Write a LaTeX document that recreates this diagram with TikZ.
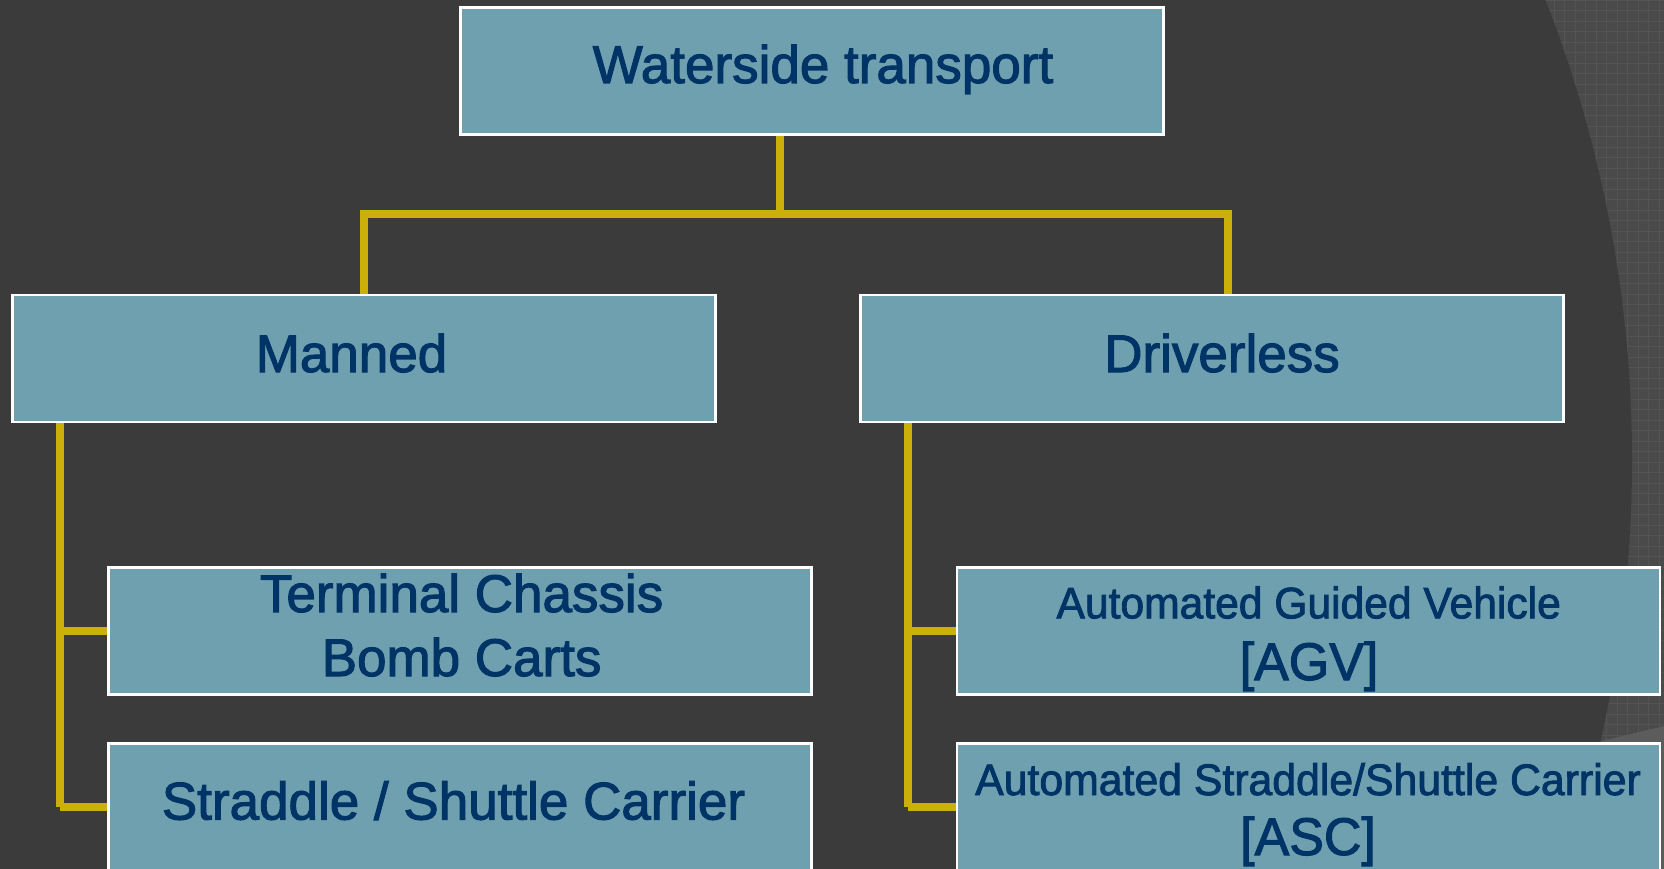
\documentclass[tikz,border=0pt]{standalone}
\usepackage{fontspec}
\setmainfont{Liberation Sans}
\newfontfamily\boxfont{Liberation Sans}[FakeBold=2]
\definecolor{slate}{RGB}{59,59,59}
\definecolor{slatelight}{RGB}{74,74,74}
\definecolor{meshline}{RGB}{84,84,84}
\definecolor{boxfill}{RGB}{111,160,176}
\definecolor{navy}{RGB}{0,51,102}
\definecolor{gold}{RGB}{204,176,10}
\tikzset{
  box/.style={rectangle, draw=white, line width=2.4pt, fill=boxfill,
    inner sep=0pt, minimum width=703pt, minimum height=127pt},
  txt/.style={text=navy, inner sep=0pt, anchor=base,
    font=\boxfont\fontsize{53}{60}\selectfont},
  smalltxt/.style={txt, font=\boxfont\fontsize{44}{50}\selectfont},
  link/.style={draw=gold, line width=8pt, line cap=butt, line join=miter},
}
\begin{document}
\begin{tikzpicture}[x=1pt,y=-1pt]
\useasboundingbox (0,0) rectangle (1664,869);
\clip (0,0) rectangle (1664,869);

% backdrop: textured band on the right, dark disc over the rest
\fill[slatelight] (0,0) rectangle (1664,869);
\draw[meshline, line width=0.7pt, step=10.5pt] (1450,0) grid (1664,869);
\fill[slatelight!90!white] (1598,742) -- (1664,726) -- (1664,869) -- (1580,869) -- cycle;
\fill[slate] (372,460) circle[radius=1260];

% boxes
\node[box] (wt)       at (811.8,71)   {};
\node[box] (manned)   at (364,358.2)  {};
\node[box] (driver)   at (1211.9,358.2) {};
\node[box] (term)     at (459.8,630.9)  {};
\node[box] (straddle) at (459.8,807)    {};
\node[box] (agv)      at (1308.2,630.9) {};
\node[box] (asc)      at (1308.2,807)   {};

% labels
\node[txt] (twt)  at (823,83)     {Waterside transport};
\node[txt] (tman) at (351.5,372)  {Manned};
\node[txt] (tdrv) at (1222,372)   {Driverless};
\node[txt] (tt1)  at (461.6,612)  {Terminal Chassis};
\node[txt] (tt2)  at (461.6,676)  {Bomb Carts};
\node[txt] (tsc)  at (453.5,819.5) {Straddle / Shuttle Carrier};
\node[smalltxt] (ta1) at (1308.7,618.3) {\scalebox{0.968}[1]{Automated Guided Vehicle}};
\node[txt] (ta2)  at (1309,680)   {\scalebox{0.98}[1]{[AGV]}};
\node[smalltxt] (ts1) at (1308,795) {\scalebox{0.972}[1]{Automated Straddle/Shuttle Carrier}};
\node[txt] (ts2)  at (1308,855)   {\scalebox{0.98}[1]{[ASC]}};

% connector anchors
\coordinate (trunk) at (780,214);
\coordinate (busl)  at (364,214);
\coordinate (busr)  at (1228,214);
\coordinate (lfoot) at (60,807);
\coordinate (rfoot) at (908,807);

% top level
\draw[link] (wt.south -| trunk) -- (trunk);
\draw[link] (manned.north) -- (busl) -- (busr) -- (busr |- driver.north);

% manned branch
\draw[link] (manned.south -| lfoot) -- (lfoot);
\draw[link] (term.west -| lfoot) -- (term.west);
\draw[link] (lfoot) -- (straddle.west);

% driverless branch
\draw[link] (driver.south -| rfoot) -- (rfoot);
\draw[link] (agv.west -| rfoot) -- (agv.west);
\draw[link] (rfoot) -- (asc.west);
\end{tikzpicture}
\end{document}
